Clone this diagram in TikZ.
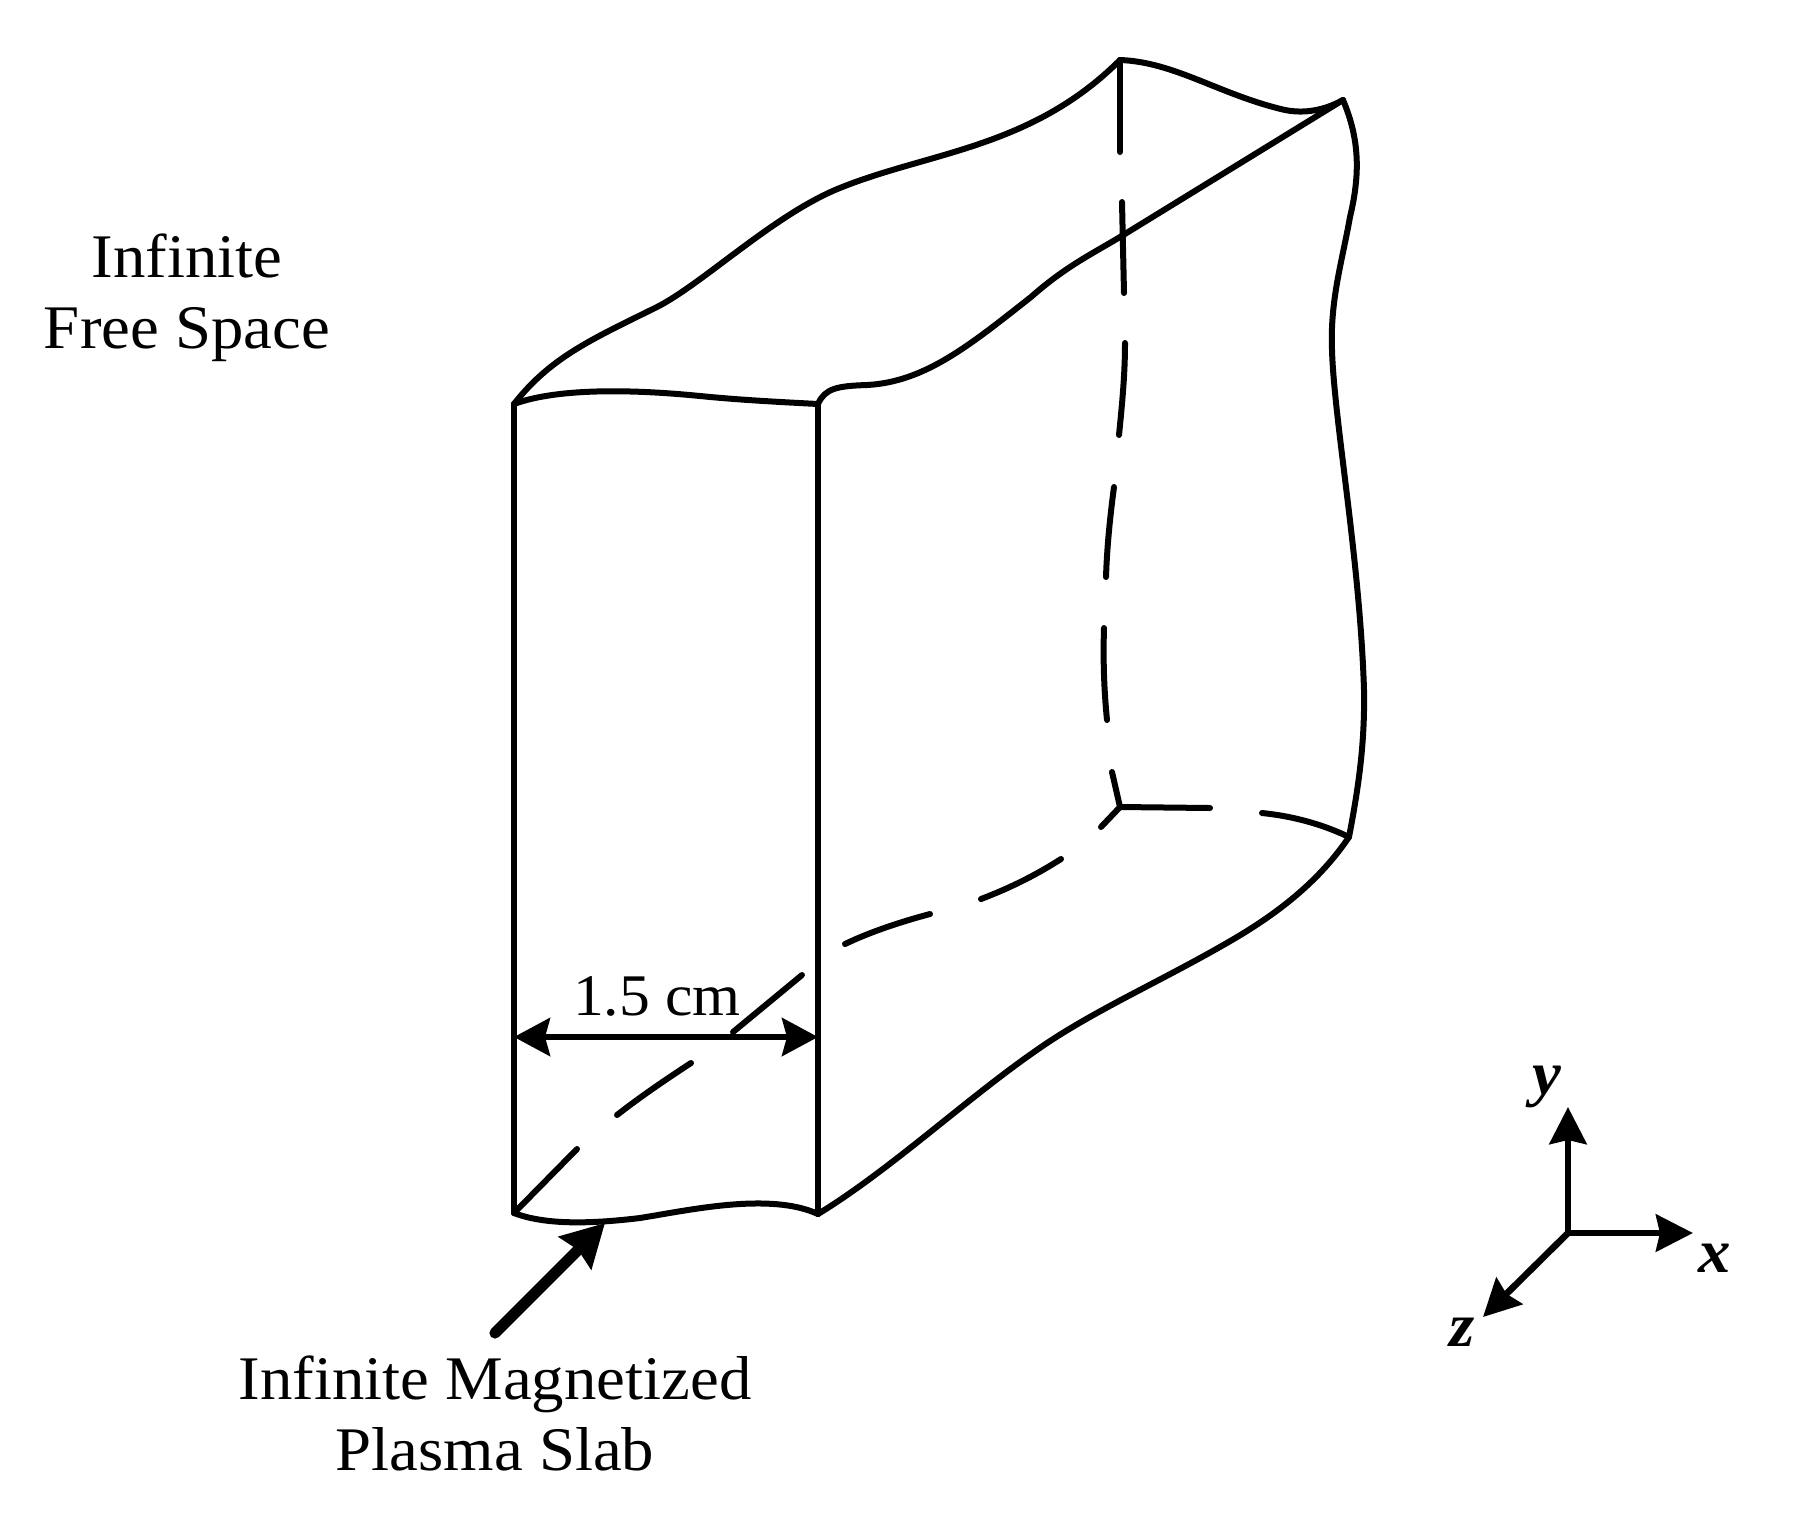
\documentclass[tikz,border=0pt]{standalone}
\usepackage{fontspec}
\setmainfont{Liberation Serif}[FakeStretch=1.045]
\usetikzlibrary{arrows.meta}
\tikzset{
  edge/.style={line width=3pt,line cap=round,line join=round,black},
  label/.style={inner sep=0pt,font=\fontsize{31}{35.5}\selectfont,align=center},
  dimlabel/.style={inner sep=0pt,font=\fontsize{29.5}{35}\selectfont},
  axislabel/.style={inner sep=0pt,font=\fontsize{31}{36}\selectfont\bfseries\itshape},
  dimarrow/.style={line width=3pt,{Stealth[length=18pt,width=19pt,inset=2.5pt]}-{Stealth[length=18pt,width=19pt,inset=2.5pt]}},
  bigarrow/.style={line width=5.6pt,line cap=round,-{Stealth[length=21pt,width=22.5pt,inset=2pt]}},
  axisarrow/.style={line width=3.3pt,-{Stealth[length=18.5pt,width=18.5pt,inset=2pt]}}
}
\begin{document}
\begin{tikzpicture}[x=0.5pt,y=-0.5pt]
\useasboundingbox (0,0) rectangle (1811,1517);
% corners
\coordinate (FTL) at (514,404);
\coordinate (FTR) at (818,404);
\coordinate (FBL) at (514,1213);
\coordinate (FBR) at (818,1214);
\coordinate (BTL) at (1120,60);
\coordinate (BTR) at (1343,100);
\coordinate (BBR) at (1349,837);
\coordinate (BBL) at (1120,807);
% front face
\draw[edge] (FTL) -- (FBL);
\draw[edge] (FTR) -- (FBR);
\draw[edge] (FTL) .. controls (560,387) and (640,390) .. (700,396) .. controls (740,400) and (780,402) .. (FTR);
\draw[edge] (FBL) .. controls (545,1225) and (590,1224) .. (640,1218) .. controls (690,1210) and (770,1192) .. (FBR);
% top edges
\draw[edge] (FTL) .. controls (550,358) and (590,340) .. (655,308) .. controls (700,286) and (770,218) .. (835,190) .. controls (925,152) and (1030,150) .. (BTL);
\draw[edge] (BTL) .. controls (1175,62) and (1220,95) .. (1285,110) .. controls (1305,114) and (1325,110) .. (BTR);
\draw[edge] (FTR) .. controls (825,388) and (838,386) .. (867,385) .. controls (925,382) and (970,345) .. (1031,297) .. controls (1065,267) and (1090,255) .. (1120,237) -- (BTR);
% right edges
\draw[edge] (BTR) .. controls (1360,140) and (1360,175) .. (1350,217) .. controls (1342,262) and (1330,300) .. (1332,350) .. controls (1334,420) and (1360,560) .. (1364,690) .. controls (1365,745) and (1358,790) .. (BBR);
\draw[edge] (FBR) .. controls (890,1170) and (965,1100) .. (1034,1052) .. controls (1090,1012) and (1160,982) .. (1232,940) .. controls (1280,912) and (1320,880) .. (BBR);
% hidden edges, as individual dashes
\draw[edge] (BTL) -- (1120,152);
\draw[edge] (1122,202) -- (1124,293);
\draw[edge] (1125,343) .. controls (1125,375) and (1122,405) .. (1119,435);
\draw[edge] (1114,487) .. controls (1110,517) and (1107,547) .. (1106,577);
\draw[edge] (1104,628) .. controls (1103,660) and (1104,690) .. (1107,720);
\draw[edge] (1112,772) -- (BBL);
\draw[edge] (BBL) -- (1101,827);
\draw[edge] (BBL) -- (1210,808);
\draw[edge] (1262,813) .. controls (1292,816) and (1322,824) .. (BBR);
\draw[edge] (981,899) .. controls (1010,888) and (1036,875) .. (1061,859);
\draw[edge] (845,944) .. controls (870,932) and (900,922) .. (930,914);
\draw[edge] (802,975) -- (733,1032);
\draw[edge] (691,1063) .. controls (665,1080) and (640,1097) .. (617,1115);
\draw[edge] (577,1149) -- (FBL);
% dimension
\coordinate (DL) at (514,1037);
\coordinate (DR) at (818,1037);
\draw[dimarrow] (DL) -- (DR);
% pointer arrow
\coordinate (PS) at (495,1333);
\coordinate (PT) at (605,1223);
\draw[bigarrow] (PS) -- (PT);
% axes
\coordinate (O) at (1568,1233);
\coordinate (AY) at (1568,1107);
\coordinate (AX) at (1693,1233);
\coordinate (AZ) at (1483,1317);
\draw[axisarrow] (O) -- (AY);
\draw[axisarrow] (O) -- (AX);
\draw[axisarrow] (O) -- (AZ);
% labels
\node[label] (free) at (187,298) {Infinite\\Free Space};
\node[label] (slab) at (495,1413) {Infinite Magnetized\\Plasma Slab};
\node[dimlabel] (dim) at (657,996) {1.5 cm};
\node[axislabel] (ly) at (1547,1087) {y};
\node[axislabel] (lx) at (1715,1258) {x};
\node[axislabel] (lz) at (1462,1332) {z};
\end{tikzpicture}
\end{document}
